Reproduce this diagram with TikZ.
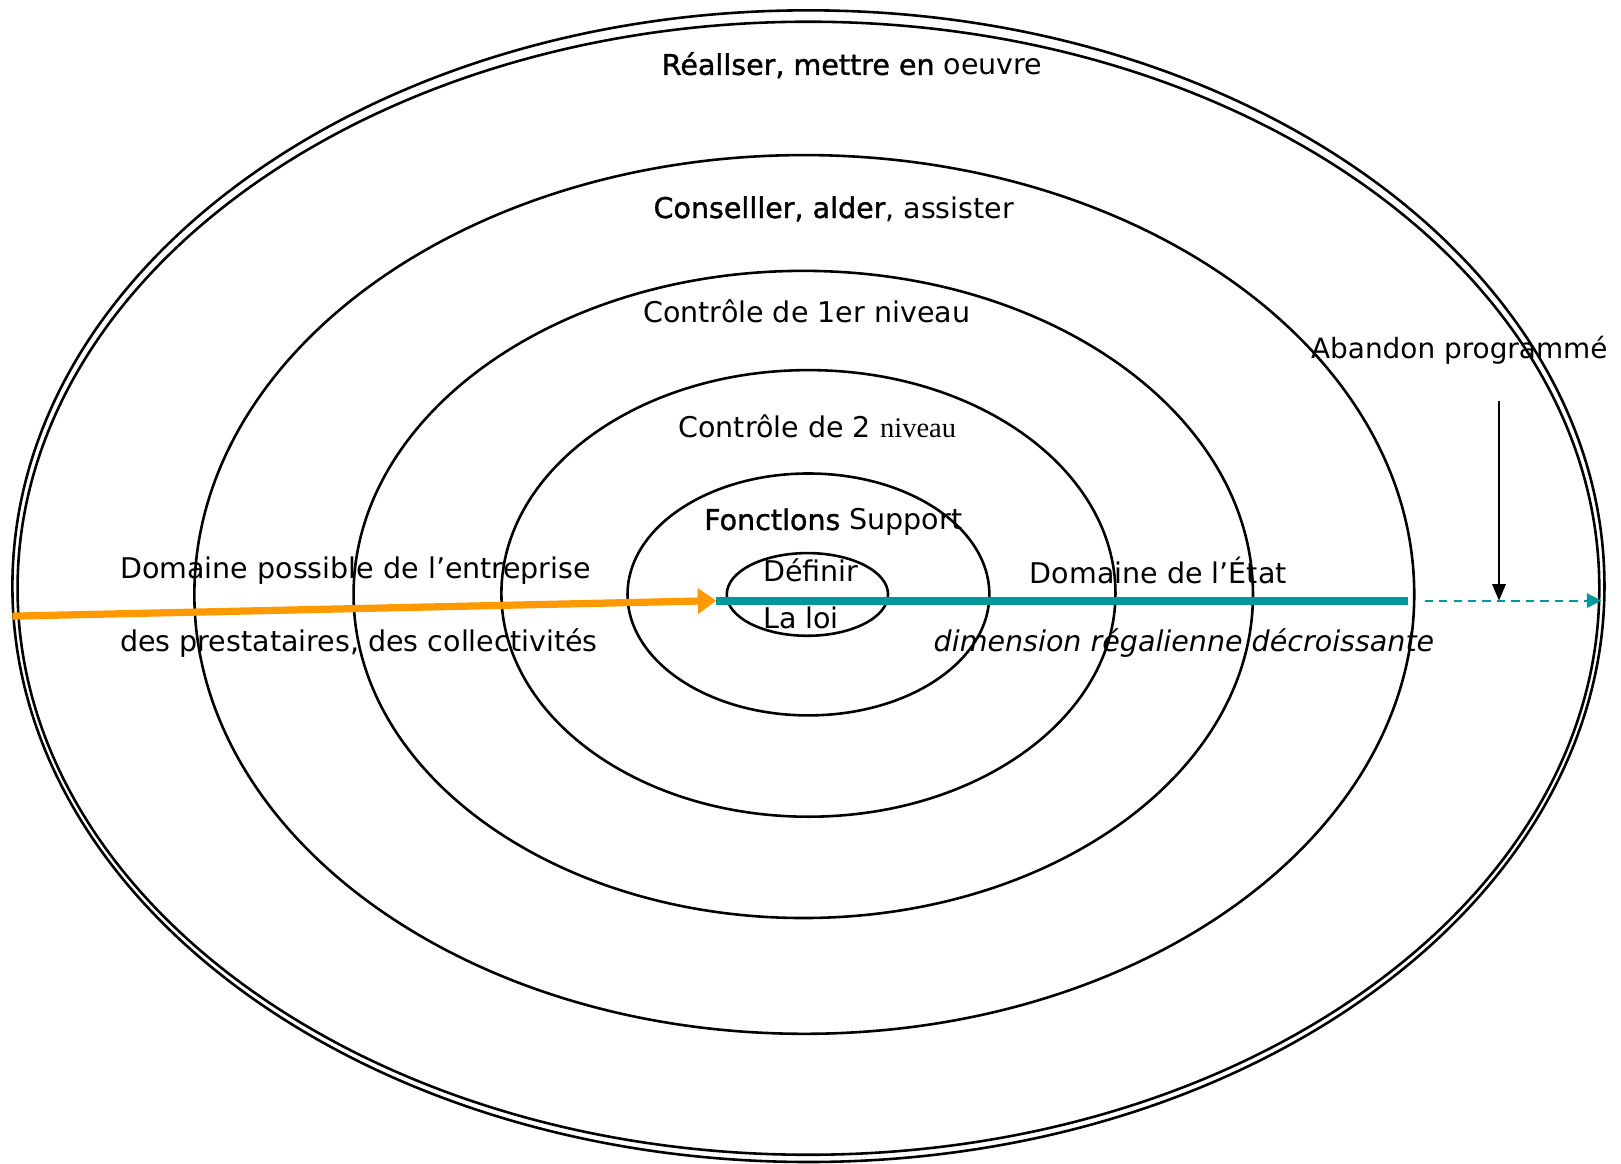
\documentclass[tikz,border=0pt]{standalone}
\usepackage{fontspec}
\setmainfont{DejaVu Sans}
\newfontfamily\timesfont{Liberation Serif}
\newfontfamily\heavyfont{DejaVu Sans}[FakeBold=1.2]
\usetikzlibrary{arrows.meta}
\definecolor{stateteal}{RGB}{0,153,153}
\definecolor{firmorange}{RGB}{255,153,0}
\tikzset{ring/.style={line width=2.5pt},
  lbl/.style={font=\fontsize{27.6}{32}\selectfont, inner sep=0pt, anchor=west}}

\begin{document}
\begin{tikzpicture}[x=1pt,y=-1pt]
	\fill [white] (0,0) rectangle (1568,1125);
	\useasboundingbox (0,0) rectangle (1568,1125);
	% rings, outside in
	\draw [ring] (782,567) ellipse [x radius=770, y radius=557];
	\draw [ring] (782,569) ellipse [x radius=765, y radius=548];
	\draw [ring] (778,575) ellipse [x radius=590, y radius=425];
	\draw [ring] (777,575) ellipse [x radius=435, y radius=313];
	\draw [ring] (782,574) ellipse [x radius=297, y radius=216];
	\draw [ring] (782,575) ellipse [x radius=175, y radius=117];
	\draw [ring] (781,575) ellipse [x radius=78, y radius=40];
	% texts
	\node [lbl] (realiser) at (640,63) {{\heavyfont Réallser, mettre en} oeuvre};
	\node [lbl] (conseiller) at (632,202) {{\heavyfont Conselller, alder}, assister};
	\node [lbl] (ctrlone) at (622,301) {Contrôle de 1er niveau};
	\node [lbl] (ctrltwo) at (656,412) {Contrôle de 2 {\timesfont niveau}};
	\node [lbl] (support) at (681,505) {{\heavyfont Fonctlons} Support};
	\node [lbl] (definir) at (738,552) {Définir};
	\node [lbl] (loi) at (738,598) {La loi};
	\node [lbl] (firm) at (116,552) {Domaine possible de l’entreprise};
	\node [lbl] (providers) at (116,622) {des prestataires, des collectivités};
	\node [lbl] (state) at (996,552) {Domaine de l’État};
	\node [lbl, font=\fontsize{27.6}{32}\selectfont\itshape] (regal) at (903,622) {dimension régalienne décroissante};
	\node [lbl, font=\fontsize{27}{32}\selectfont] (abandon) at (1268,339) {Abandon programmé};
	% axis of the domains
	\coordinate (start) at (12,596);
	\coordinate (tip) at (693,581);
	\coordinate (stateend) at (1362,581);
	\coordinate (dashstart) at (1378,581);
	\coordinate (dashend) at (1549,581);
	\coordinate (drop) at (1450,388);
	\coordinate (landing) at (1450,581);
	\draw [line width=7pt, firmorange, -{Triangle[length=18pt,width=24pt]}] (start) -- (tip);
	\draw [line width=8pt, stateteal] (tip) -- (stateend);
	\draw [line width=2pt, stateteal, dash pattern=on 8pt off 6pt, -{Triangle[length=14pt,width=14pt]}] (dashstart) -- (dashend);
	\draw [line width=2pt, -{Triangle[length=16pt,width=13pt]}] (drop) -- (landing);
\end{tikzpicture}
\end{document}
